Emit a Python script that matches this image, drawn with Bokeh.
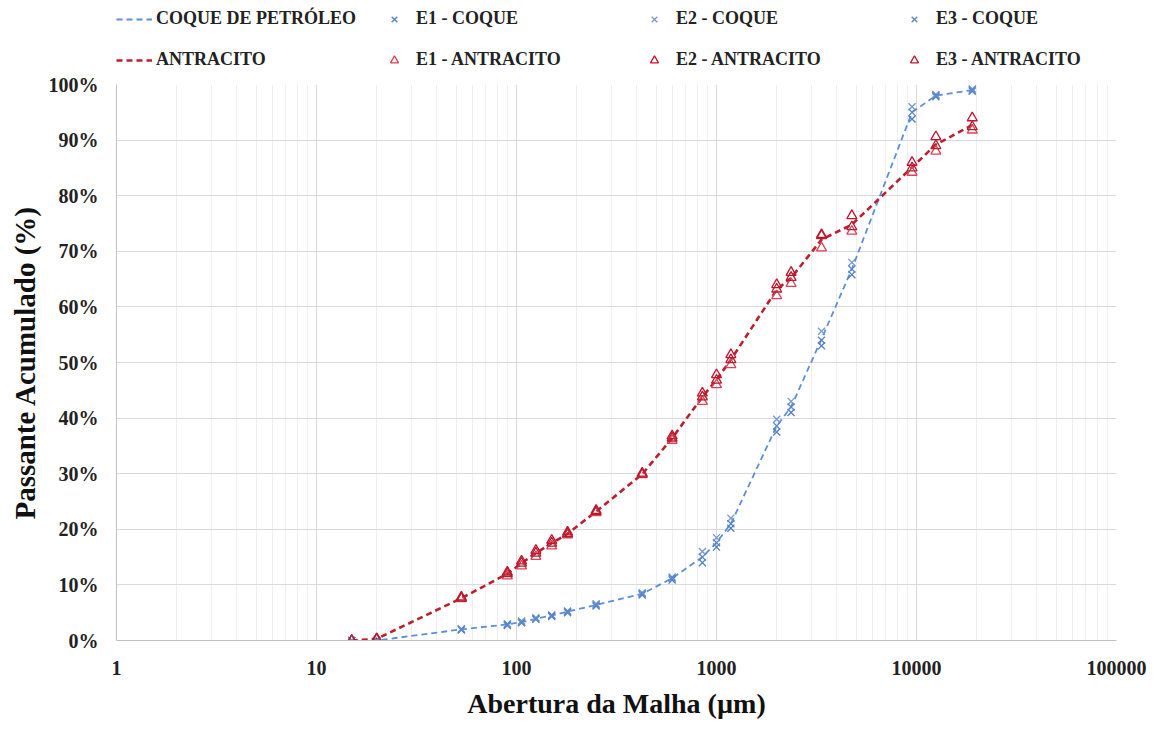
from bokeh.plotting import figure
from bokeh.layouts import column
from bokeh.models import (Range1d, FixedTicker, NumeralTickFormatter, CustomJSTickFormatter,
                          Legend, LegendItem)
from bokeh.embed import file_html
from bokeh.resources import INLINE

# ---------------- data ----------------
abertura = [15, 20, 53, 90, 106, 125, 150, 180, 250, 425, 600, 850, 1000, 1180,
            2000, 2360, 3350, 4750, 9500, 12500, 19000]

coque_media = [0, 0, 2.0, 2.9, 3.3, 3.9, 4.5, 5.2, 6.4, 8.4, 11.2, 15.0, 17.6, 21.0,
               38.6, 42.0, 54.2, 66.8, 95.0, 98.0, 99.0]
coque_e1 = [0, 0, 1.9, 2.7, 3.2, 3.8, 4.3, 5.0, 6.2, 8.2, 10.9, 14.0, 16.8, 20.2,
            37.5, 41.0, 53.0, 65.8, 93.8, 97.8, 98.8]
coque_e2 = [0, 0, 2.1, 3.0, 3.5, 4.1, 4.6, 5.3, 6.6, 8.6, 11.4, 16.0, 18.5, 22.0,
            39.8, 43.0, 55.6, 68.0, 96.0, 98.2, 99.2]
coque_e3 = [0, 0, 2.0, 2.9, 3.3, 3.9, 4.5, 5.2, 6.4, 8.4, 11.2, 15.0, 17.6, 21.0,
            38.6, 42.0, 54.0, 66.8, 95.0, 98.0, 99.0]

antr_media = [0, 0.3, 7.6, 12.0, 13.9, 15.7, 17.5, 19.2, 23.2, 29.9, 36.4, 43.8, 46.9, 50.5,
              63.1, 65.2, 72.1, 74.8, 85.1, 89.2, 92.7]
antr_e1 = [0, 0.3, 7.5, 11.6, 13.4, 15.1, 17.0, 19.0, 23.0, 29.8, 36.0, 43.0, 46.0, 49.6,
           62.0, 64.2, 70.6, 73.6, 84.2, 88.0, 91.8]
antr_e2 = [0, 0.3, 7.8, 12.3, 14.3, 16.2, 18.0, 19.5, 23.4, 30.1, 36.8, 44.5, 47.8, 51.4,
           64.0, 66.2, 73.0, 76.4, 86.0, 90.6, 94.0]
antr_e3 = [0, 0.2, 7.6, 12.0, 13.9, 15.7, 17.5, 19.2, 23.2, 29.9, 36.4, 43.8, 46.8, 50.5,
           63.2, 65.3, 72.8, 74.4, 85.0, 89.0, 92.4]

series_labels = ["COQUE DE PETRÓLEO", "E1 - COQUE", "E2 - COQUE", "E3 - COQUE",
                 "ANTRACITO", "E1 - ANTRACITO", "E2 - ANTRACITO", "E3 - ANTRACITO"]

x_ticks = [1, 10, 100, 1000, 10000, 100000]
x_minor = [m * 10 ** d for d in range(0, 5) for m in range(2, 10)]
y_ticks = list(range(0, 101, 10))

FONT = "Liberation Serif"
BLUE_LINE = "#5B8FD8"
RED_LINE = "#BE1E2D"
BLUE_MK = ["#4F7FCB", "#7497D4", "#5A86CC"]
RED_MK = ["#E0405A", "#C8102E", "#B0202A"]
W = 1147


def draw_series(fig):
    """Draw the two mean lines and the six run series on fig; return renderers."""
    lc = fig.line(abertura, coque_media, line_color=BLUE_LINE, line_width=1.8, line_dash="6 4")
    la = fig.line(abertura, antr_media, line_color=RED_LINE, line_width=2.6, line_dash="6 4")
    rc = [fig.scatter(abertura, ys, marker="x", size=10, line_color=c, line_width=1.3)
          for ys, c in zip((coque_e1, coque_e2, coque_e3), BLUE_MK)]
    ra = [fig.scatter(abertura, ys, marker="triangle", size=10, line_color=c,
                      fill_color=None, line_width=1.3)
          for ys, c in zip((antr_e1, antr_e2, antr_e3), RED_MK)]
    return [lc] + rc + [la] + ra


# ---------------- main chart ----------------
p = figure(width=W, height=651, x_axis_type="log",
           x_range=Range1d(1, 100000), y_range=Range1d(0, 100),
           output_backend="svg", toolbar_location=None,
           min_border_left=116, min_border_right=31, min_border_top=14, min_border_bottom=81)

p.outline_line_color = None
p.background_fill_color = "white"

p.xaxis.ticker = FixedTicker(ticks=x_ticks, minor_ticks=x_minor)
p.xaxis.formatter = NumeralTickFormatter(format="0")
p.yaxis.ticker = FixedTicker(ticks=y_ticks)
p.yaxis.formatter = CustomJSTickFormatter(code="return tick.toFixed(0) + '%'")
for ax in (p.xaxis, p.yaxis):
    ax.axis_line_color = "#BFBFBF"
    ax.major_tick_line_color = None
    ax.minor_tick_line_color = None
    ax.major_tick_out = 0
    ax.major_tick_in = 0
    ax.minor_tick_out = 0
    ax.minor_tick_in = 0
    ax.major_label_text_font = FONT
    ax.major_label_text_font_style = "bold"
    ax.major_label_text_font_size = "20px"
    ax.major_label_text_color = "#222222"
    ax.axis_label_text_font = FONT
    ax.axis_label_text_font_style = "bold"
    ax.axis_label_text_font_size = "28px"
    ax.axis_label_text_color = "#111111"

p.xaxis.major_label_standoff = 20
p.xaxis.axis_label = "Abertura da Malha (µm)"
p.xaxis.axis_label_standoff = 10

p.yaxis.major_label_standoff = 18
p.yaxis.axis_label = "Passante Acumulado (%)"
p.yaxis.axis_label_standoff = 5
p.yaxis.axis_label_text_font_size = "29px"

p.xgrid.ticker = FixedTicker(ticks=x_ticks, minor_ticks=x_minor)
p.xgrid.grid_line_color = "#D9D9D9"
p.xgrid.minor_grid_line_color = "#EFEFEF"
p.ygrid.ticker = FixedTicker(ticks=y_ticks)
p.ygrid.grid_line_color = "#D9D9D9"

draw_series(p)

# ---------------- legend strip (separate figure above the chart) ----------------
# Its ranges keep the copies of the series out of view; only the legend shows.
lg = figure(width=W, height=70, x_range=Range1d(-2, -1), y_range=Range1d(-2, -1),
            output_backend="svg", toolbar_location=None,
            x_axis_location=None, y_axis_location=None,
            min_border_left=116, min_border_right=31, min_border_top=0, min_border_bottom=0)
lg.outline_line_color = None
lg.grid.visible = False

renderers = draw_series(lg)
items = [LegendItem(label=lab, renderers=[r]) for lab, r in zip(series_labels, renderers)]
legend = Legend(items=items, ncols=4, orientation="horizontal", location=(0, 0),
                glyph_width=36, glyph_height=20, label_height=20, label_width=200,
                label_standoff=4, spacing=20, padding=0, margin=0,
                border_line_color=None, background_fill_alpha=0,
                label_text_font=FONT, label_text_font_style="bold",
                label_text_font_size="18px", label_text_color="#222222")
lg.add_layout(legend)

layout = column(lg, p, spacing=0)
open("out.html", "w").write(file_html(layout, INLINE))
